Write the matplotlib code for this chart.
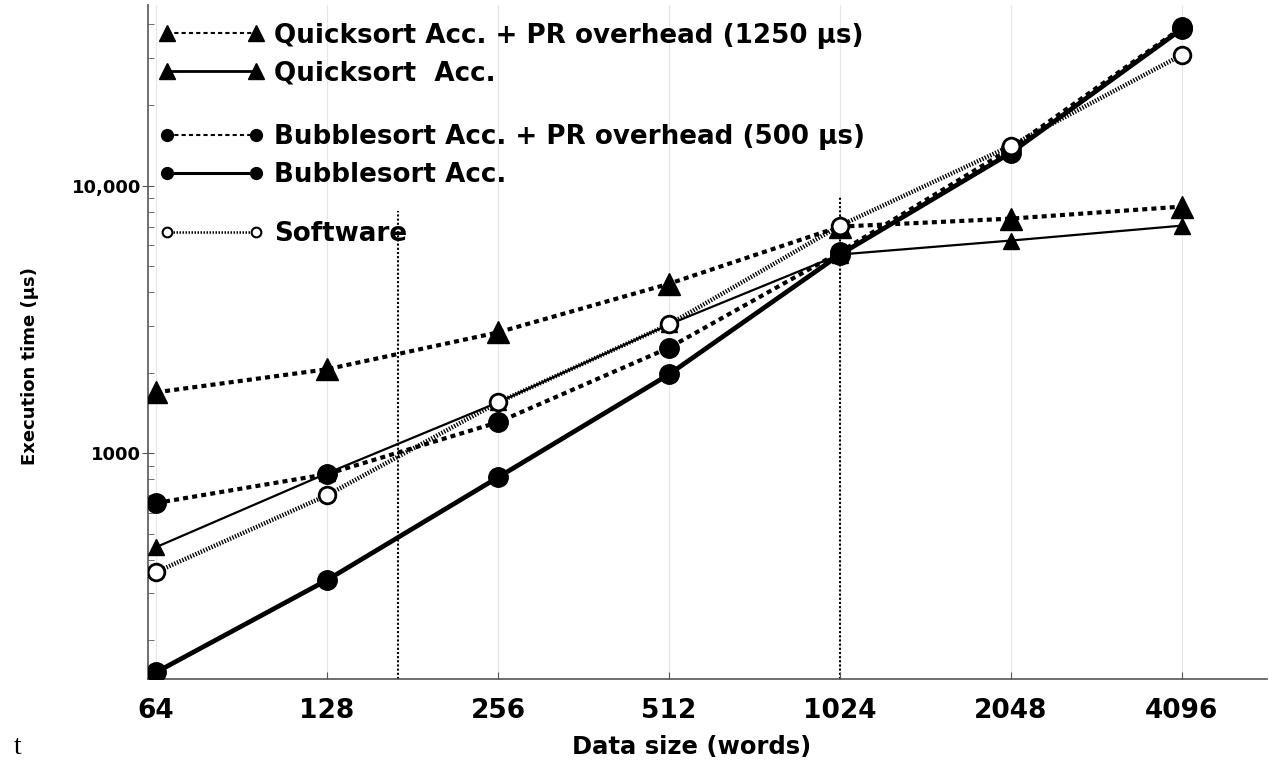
import matplotlib
matplotlib.use("Agg")
import matplotlib.pyplot as plt
from matplotlib.lines import Line2D
from matplotlib.ticker import FixedLocator, NullFormatter, LogLocator

# data
sizes = [64, 128, 256, 512, 1024, 2048, 4096]
quick_pr = [1690, 2060, 2830, 4300, 7030, 7530, 8350]
quick_acc = [446, 842, 1549, 3030, 5530, 6235, 7090]
bubble_pr = [652, 836, 1306, 2480, 5650, 13780, 39000]
bubble_acc = [152, 336, 813, 1972, 5530, 13280, 38500]
software = [360, 697, 1549, 3030, 7090, 14100, 30800]
x_labels = ['64', '128', '256', '512', '1024', '2048', '4096']
marker_lines = [(171, 8070), (1024, 9100)]

plt.rcParams['font.family'] = ['DejaVu Sans']
plt.rcParams['font.weight'] = 'bold'

fig = plt.figure(figsize=(12.69, 7.67), dpi=100)
ax = fig.add_axes([148/1269, 1-679/767, 1119/1269, 674/767])

ax.set_xscale('log', base=2)
ax.set_yscale('log')
ax.set_xlim(61.96, 5781)
ax.set_ylim(143.5, 47300)

for x in sizes:
    ax.axvline(x, color='#e6e6e6', lw=0.8, zorder=0)

for x, top in marker_lines:
    ax.vlines(x, 143.5, top, colors='black', linestyles=(0, (1, 1)), lw=1.5, zorder=1)

dash = (0, (1.2, 1.0))
ax.plot(sizes, quick_pr, color='black', ls=dash, lw=3.0, marker='^', ms=16, zorder=3)
ax.plot(sizes, quick_acc, color='black', ls='-', lw=1.6, marker='^', ms=12, zorder=3)
ax.plot(sizes, bubble_pr, color='black', ls=dash, lw=3.0, marker='o', ms=14, zorder=4)
ax.plot(sizes, bubble_acc, color='black', ls='-', lw=3.4, marker='o', ms=14, zorder=4)
ax.plot(sizes, software, color='black', ls=(0, (0.3, 0.35)), lw=3.2, marker='o', ms=12,
        mfc='white', mec='black', mew=2, zorder=5)

ax.xaxis.set_major_locator(FixedLocator(sizes))
ax.set_xticklabels(x_labels, fontsize=19, fontweight='bold')
ax.xaxis.set_minor_locator(FixedLocator([]))
ax.tick_params(axis='x', direction='in', length=5, pad=14, color='#555555')

ax.yaxis.set_major_locator(FixedLocator([1000, 10000]))
ax.set_yticklabels(['1000', '10,000'], fontsize=13, fontweight='bold')
ax.yaxis.set_minor_locator(LogLocator(base=10, subs=range(2, 10)))
ax.yaxis.set_minor_formatter(NullFormatter())
ax.tick_params(axis='y', which='major', direction='inout', length=8, pad=1, color='#555555')
ax.tick_params(axis='y', which='minor', direction='in', length=4, color='#555555')

for s in ['top', 'right']:
    ax.spines[s].set_visible(False)
for s in ['left', 'bottom']:
    ax.spines[s].set_color('#555555')
    ax.spines[s].set_linewidth(1.2)

ax.set_xlabel('Data size (words)', fontsize=17.5, fontweight='bold')
ax.xaxis.set_label_coords(0.486, -0.083)
ax.set_ylabel('Execution time (μs)', fontsize=13, fontweight='bold')
ax.yaxis.set_label_coords(-0.097, 0.464)

leg_kw = dict(loc='upper left', frameon=False, borderpad=0, borderaxespad=0,
              handlelength=4.0, handletextpad=0.4, labelspacing=0.44, numpoints=2,
              prop={'size': 18.8, 'weight': 'bold'})

h1 = [Line2D([], [], color='black', ls=(0, (2, 1.5)), lw=1.5, marker='^', ms=12),
      Line2D([], [], color='black', ls='-', lw=2.0, marker='^', ms=12)]
leg1 = ax.legend(h1, ['Quicksort Acc. + PR overhead (1250 μs)', 'Quicksort  Acc.'],
                 bbox_to_anchor=(0.010, 0.974), **leg_kw)
ax.add_artist(leg1)

h2 = [Line2D([], [], color='black', ls=(0, (2, 1.5)), lw=1.5, marker='o', ms=8.5),
      Line2D([], [], color='black', ls='-', lw=2.2, marker='o', ms=8.5)]
leg2 = ax.legend(h2, ['Bubblesort Acc. + PR overhead (500 μs)', 'Bubblesort Acc.'],
                 bbox_to_anchor=(0.010, 0.823), **leg_kw)
ax.add_artist(leg2)

h3 = [Line2D([], [], color='black', ls=(0, (0.6, 0.6)), lw=1.8, marker='o', ms=7,
             mfc='white', mec='black', mew=1.5)]
ax.legend(h3, ['Software'], bbox_to_anchor=(0.010, 0.679), **leg_kw)

fig.text(14/1269, 1-748/767, 't', fontsize=20, family='Liberation Serif',
         fontweight='normal', va='center')

fig.savefig('out.png', dpi=100)
